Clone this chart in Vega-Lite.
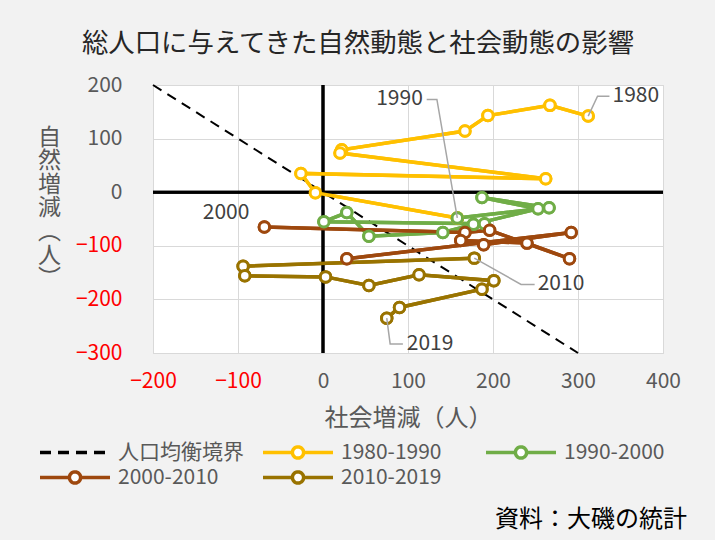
{
  "$schema": "https://vega.github.io/schema/vega-lite/v6.json",
  "width": 510,
  "height": 268,
  "autosize": {"type": "none"},
  "padding": {"left": 153, "top": 85, "right": 52, "bottom": 187},
  "background": "#F2F2F2",
  "config": {
    "font": "Noto Sans CJK JP",
    "view": {"fill": "white", "stroke": "#D9D9D9"},
    "axis": {"gridColor": "#D9D9D9", "gridWidth": 1, "domain": false, "ticks": false, "labelFontSize": 21, "titleFontSize": 24, "titleColor": "#595959", "titleFontWeight": "normal"}
  },
  "title": {"text": "総人口に与えてきた自然動態と社会動態の影響", "fontSize": 26.4, "fontWeight": "normal", "color": "#262626", "anchor": "middle", "frame": "group", "dx": -50, "offset": 17},
  "datasets": {
    "series": [
      {"s": "1980-1990", "t": 1980, "x": 312, "y": 142},
      {"s": "1980-1990", "t": 1981, "x": 267, "y": 162},
      {"s": "1980-1990", "t": 1982, "x": 194, "y": 143},
      {"s": "1980-1990", "t": 1983, "x": 167, "y": 114},
      {"s": "1980-1990", "t": 1984, "x": 22, "y": 79},
      {"s": "1980-1990", "t": 1985, "x": 20, "y": 73},
      {"s": "1980-1990", "t": 1986, "x": 262, "y": 25},
      {"s": "1980-1990", "t": 1987, "x": -26, "y": 35},
      {"s": "1980-1990", "t": 1988, "x": -9, "y": -1},
      {"s": "1980-1990", "t": 1990, "x": 158, "y": -48},
      {"s": "1990-2000", "t": 1990, "x": 158, "y": -48},
      {"s": "1990-2000", "t": 1991, "x": 266, "y": -29},
      {"s": "1990-2000", "t": 1992, "x": 187, "y": -10},
      {"s": "1990-2000", "t": 1993, "x": 253, "y": -31},
      {"s": "1990-2000", "t": 1994, "x": 177, "y": -60},
      {"s": "1990-2000", "t": 1995, "x": 141, "y": -75},
      {"s": "1990-2000", "t": 1996, "x": 54, "y": -82},
      {"s": "1990-2000", "t": 1997, "x": 28, "y": -38},
      {"s": "1990-2000", "t": 1998, "x": 1, "y": -55},
      {"s": "1990-2000", "t": 1999, "x": 190, "y": -59},
      {"s": "2000-2010", "t": 2000, "x": -69, "y": -65},
      {"s": "2000-2010", "t": 2001, "x": 167, "y": -75},
      {"s": "2000-2010", "t": 2002, "x": 196, "y": -71},
      {"s": "2000-2010", "t": 2003, "x": 290, "y": -124},
      {"s": "2000-2010", "t": 2004, "x": 240, "y": -95},
      {"s": "2000-2010", "t": 2005, "x": 162, "y": -90},
      {"s": "2000-2010", "t": 2006, "x": 189, "y": -98},
      {"s": "2000-2010", "t": 2007, "x": 292, "y": -75},
      {"s": "2000-2010", "t": 2008, "x": 28, "y": -124},
      {"s": "2010-2019", "t": 2010, "x": 178, "y": -123},
      {"s": "2010-2019", "t": 2011, "x": -94, "y": -138},
      {"s": "2010-2019", "t": 2012, "x": -92, "y": -156},
      {"s": "2010-2019", "t": 2013, "x": 3, "y": -158},
      {"s": "2010-2019", "t": 2014, "x": 54, "y": -174},
      {"s": "2010-2019", "t": 2015, "x": 113, "y": -154},
      {"s": "2010-2019", "t": 2016, "x": 201, "y": -165},
      {"s": "2010-2019", "t": 2017, "x": 187, "y": -181},
      {"s": "2010-2019", "t": 2018, "x": 90, "y": -215},
      {"s": "2010-2019", "t": 2019, "x": 75, "y": -235}
    ],
    "boundary": [
      {"s": "人口均衡境界", "x": -200, "y": 200},
      {"s": "人口均衡境界", "x": 300, "y": -300}
    ],
    "labels": [
      {"label": "1980", "x": 368, "y": 179},
      {"label": "1990", "x": 90, "y": 173},
      {"label": "2000", "x": -114, "y": -38},
      {"label": "2010", "x": 280, "y": -172},
      {"label": "2019", "x": 126, "y": -284}
    ],
    "leaders": [
      {"g": "1980", "i": 0, "x": 312, "y": 142},
      {"g": "1980", "i": 1, "x": 323, "y": 179},
      {"g": "1980", "i": 2, "x": 337, "y": 179},
      {"g": "1990", "i": 0, "x": 122, "y": 173},
      {"g": "1990", "i": 1, "x": 134, "y": 173},
      {"g": "1990", "i": 2, "x": 158, "y": -48},
      {"g": "2010", "i": 0, "x": 178, "y": -123},
      {"g": "2010", "i": 1, "x": 233, "y": -172},
      {"g": "2010", "i": 2, "x": 249, "y": -172},
      {"g": "2019", "i": 0, "x": 75, "y": -235},
      {"g": "2019", "i": 1, "x": 79, "y": -283},
      {"g": "2019", "i": 2, "x": 94, "y": -283}
    ]
  },
  "layer": [
    {
      "data": {"name": "series"},
      "mark": {"type": "line", "strokeWidth": 3.5, "point": {"filled": false, "fill": "white", "size": 110, "strokeWidth": 3, "opacity": 1}},
      "encoding": {
        "x": {"field": "x", "type": "quantitative", "title": "社会増減（人）",
          "scale": {"domain": [-200, 400], "nice": false, "zero": false},
          "axis": {"values": [-200, -100, 0, 100, 200, 300, 400], "labelFlush": false, "labelPadding": 17, "titlePadding": 15,
            "labelColor": {"condition": {"test": "datum.value < 0", "value": "#FF0000"}, "value": "#595959"}}},
        "y": {"field": "y", "type": "quantitative", "title": ["自", "然", "増", "減", "︵", "人", "︶"],
          "scale": {"domain": [-300, 200], "nice": false, "zero": false},
          "axis": {"values": [-300, -200, -100, 0, 100, 200], "labelFlush": false, "labelPadding": 31, "titleAngle": 0, "titleX": -104, "titleY": 41, "titleAlign": "center", "titleBaseline": "top", "titleFontSize": 23, "titleLineHeight": 23.6,
            "labelColor": {"condition": {"test": "datum.value < 0", "value": "#FF0000"}, "value": "#595959"}}},
        "order": {"field": "t", "type": "quantitative"},
        "color": {"field": "s", "type": "nominal",
          "scale": {"domain": ["人口均衡境界", "1980-1990", "1990-2000", "2000-2010", "2010-2019"], "range": ["#000000", "#FFC000", "#70AD47", "#9E480E", "#997300"]},
          "legend": {"orient": "none", "legendX": -115, "legendY": 355, "direction": "horizontal", "columns": 3, "gridAlign": "all", "columnPadding": 17, "rowPadding": 0, "clipHeight": 25,
            "symbolSize": 4900, "symbolStrokeWidth": 3.5, "symbolType": "stroke",
            "labelFontSize": 21, "labelColor": "#595959", "labelOffset": 6, "labelLimit": 300,
            "title": "資料：大磯の統計", "titleLimit": 500, "titleOrient": "bottom", "titleAnchor": "end", "titleFontSize": 24, "titleFontWeight": "normal", "titleColor": "#000000", "titlePadding": 18,
            "encode": {
              "title": {"update": {"dx": {"value": 22}}},
              "symbols": {"update": {
              "shape": [{"test": "datum.value === '人口均衡境界'", "value": "M-1,0H1"}, {"value": "M-1,0H-0.16M0.16,0H1M-0.16,0A0.16,0.16 0 1,0 0.16,0A0.16,0.16 0 1,0 -0.16,0"}],
              "strokeDash": [{"test": "datum.value === '人口均衡境界'", "value": [11, 7]}, {"value": [1, 0]}],
              "fill": {"value": "#ffffff"}, "fillOpacity": {"value": 1}, "opacity": {"value": 1}
            }}}}
        }
      }
    },
    {
      "data": {"name": "boundary"},
      "mark": {"type": "line", "strokeWidth": 2, "strokeDash": [10, 7]},
      "encoding": {
        "x": {"field": "x", "type": "quantitative", "title": "社会増減（人）"},
        "y": {"field": "y", "type": "quantitative", "title": ["自", "然", "増", "減", "︵", "人", "︶"]},
        "color": {"field": "s", "type": "nominal"}
      }
    },
    {
      "data": {"name": "boundary"},
      "mark": {"type": "rule", "color": "#000000", "strokeWidth": 3},
      "encoding": {"x": {"datum": 0}, "y": {"datum": -300}, "y2": {"datum": 200}}
    },
    {
      "data": {"name": "boundary"},
      "mark": {"type": "rule", "color": "#000000", "strokeWidth": 3},
      "encoding": {"y": {"datum": 0}, "x": {"datum": -200}, "x2": {"datum": 400}}
    },
    {
      "data": {"name": "series"},
      "mark": {"type": "line", "strokeWidth": 3.5, "point": {"filled": false, "fill": "white", "size": 110, "strokeWidth": 3, "opacity": 1}},
      "encoding": {
        "x": {"field": "x", "type": "quantitative", "title": "社会増減（人）"},
        "y": {"field": "y", "type": "quantitative", "title": ["自", "然", "増", "減", "︵", "人", "︶"]},
        "order": {"field": "t", "type": "quantitative"},
        "color": {"field": "s", "type": "nominal"}
      }
    },
    {
      "data": {"name": "leaders"},
      "mark": {"type": "line", "color": "#A6A6A6", "strokeWidth": 1.5},
      "encoding": {
        "x": {"field": "x", "type": "quantitative", "title": "社会増減（人）"},
        "y": {"field": "y", "type": "quantitative", "title": ["自", "然", "増", "減", "︵", "人", "︶"]},
        "detail": {"field": "g"},
        "order": {"field": "i", "type": "quantitative"}
      }
    },
    {
      "data": {"name": "labels"},
      "mark": {"type": "text", "fontSize": 21, "color": "#404040", "align": "center", "baseline": "middle"},
      "encoding": {
        "x": {"field": "x", "type": "quantitative", "title": "社会増減（人）"},
        "y": {"field": "y", "type": "quantitative", "title": ["自", "然", "増", "減", "︵", "人", "︶"]},
        "text": {"field": "label"}
      }
    }
  ]
}
